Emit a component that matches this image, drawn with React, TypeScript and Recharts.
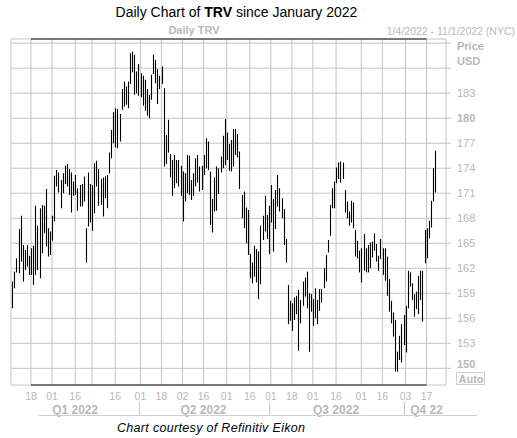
import React from "react";
import { ComposedChart, Bar, XAxis, YAxis, CartesianGrid, ReferenceLine } from "recharts";

// trading calendar, Jan 4 .. Oct 21 2022 (NYSE holidays skipped)
const FIRST_DAY = "2022-01-04";
const LAST_DAY = "2022-10-21";
const HOLIDAYS = ["01-17", "02-21", "04-15", "05-30", "06-20", "07-04", "09-05"];

// daily highs and lows
const highs = [
  160.4, 161.6, 163.2, 166.7, 168.3, 164.8, 164.2, 164.8, 163.5, 164.4,
  164.7, 169.5, 167.1, 169.2, 169.6, 169.5, 171.5, 166.8, 166.4, 168.3,
  173.1, 173.8, 173.5, 172.6, 173.4, 174.3, 174.5, 173.9, 173.5, 172.4,
  173.2, 171.6, 172.0, 172.1, 173.0, 166.8, 173.5, 172.1, 172.0, 174.6,
  174.9, 173.9, 172.7, 172.9, 173.0, 173.2, 175.9, 178.6, 180.7, 181.2,
  181.1, 180.5, 183.5, 184.4, 183.8, 184.4, 187.8, 188.0, 187.6, 185.6,
  186.5, 185.4, 185.1, 184.6, 183.5, 182.8, 185.2, 187.6, 187.0, 185.9,
  185.1, 186.2, 183.6, 178.0, 179.8, 175.7, 175.0, 175.6, 175.0, 175.0,
  174.3, 173.6, 173.4, 175.6, 175.5, 172.6, 173.4, 175.2, 175.6, 174.2,
  174.3, 175.6, 177.6, 177.2, 173.6, 170.3, 172.9, 174.2, 174.0, 175.4,
  177.9, 179.9, 178.3, 176.9, 177.4, 178.7, 178.7, 178.1, 176.0, 170.8,
  171.2, 169.3, 169.0, 163.7, 162.7, 164.7, 164.3, 164.0, 167.1, 168.3,
  170.7, 168.4, 169.5, 172.0, 170.3, 171.4, 173.2, 171.6, 170.4, 169.1,
  165.5, 160.0, 158.1, 157.8, 158.5, 158.7, 159.4, 158.2, 160.4, 160.9,
  161.6, 159.0, 158.9, 158.3, 159.6, 158.2, 159.5, 159.5, 162.0, 163.6,
  165.4, 169.6, 171.6, 172.4, 174.1, 174.7, 174.8, 174.7, 171.4, 170.0,
  168.8, 170.1, 169.9, 166.6, 165.3, 164.1, 164.4, 166.1, 164.4, 164.8,
  165.1, 165.2, 166.2, 164.9, 163.5, 165.5, 164.4, 164.4, 163.4, 160.7,
  158.1, 156.7, 155.8, 152.0, 153.9, 155.3, 156.4, 157.5, 161.7, 161.5,
  160.2, 158.9, 159.2, 161.1, 161.7, 161.7, 166.6, 166.8, 167.7, 170.1,
  174.0, 176.1,
];
const lows = [
  157.2, 159.6, 161.5, 161.4, 162.8, 160.4, 161.8, 162.2, 161.2, 161.2,
  160.0, 161.2, 161.8, 160.8, 163.8, 166.2, 164.6, 163.4, 163.6, 165.3,
  167.6, 171.8, 171.1, 169.2, 171.0, 172.1, 171.8, 170.8, 168.7, 170.7,
  170.8, 168.9, 169.4, 169.4, 170.0, 162.7, 167.0, 167.5, 166.5, 168.6,
  171.8, 169.5, 169.6, 168.2, 170.4, 169.2, 173.4, 175.2, 177.0, 176.5,
  176.4, 177.2, 181.0, 181.4, 181.6, 181.2, 184.1, 185.5, 182.8, 183.0,
  182.7, 182.5, 181.5, 180.9, 180.3, 180.0, 182.2, 185.3, 184.2, 181.7,
  183.5, 184.1, 174.2, 174.5, 175.9, 172.9, 170.7, 171.6, 172.2, 171.8,
  170.7, 167.6, 170.0, 171.0, 170.8, 170.2, 170.7, 171.8, 172.3, 171.2,
  171.4, 173.2, 174.0, 173.8, 167.2, 166.3, 168.8, 168.9, 170.9, 173.5,
  174.0, 174.4, 175.0, 173.7, 173.6, 174.2, 175.6, 175.3, 171.5, 168.0,
  166.8, 165.0, 163.6, 160.8, 160.2, 161.0, 160.3, 158.3, 160.1, 165.4,
  166.4, 165.5, 163.7, 167.5, 164.0, 166.7, 169.4, 168.8, 168.0, 164.8,
  162.7, 155.3, 155.7, 154.5, 155.8, 156.5, 152.1, 155.4, 157.5, 158.6,
  157.2, 152.0, 156.8, 155.1, 156.0, 155.3, 156.9, 157.9, 159.6, 160.4,
  163.9, 165.9, 169.2, 169.2, 172.2, 172.7, 172.3, 172.7, 168.7, 168.0,
  167.1, 167.5, 166.8, 163.4, 163.2, 161.5, 160.3, 161.7, 161.5, 161.5,
  162.0, 163.3, 164.1, 162.8, 161.7, 163.1, 161.2, 160.5, 158.7, 156.8,
  155.4, 153.8, 149.6, 149.6, 151.0, 150.7, 152.8, 151.9, 157.2, 159.8,
  158.2, 156.2, 157.1, 156.5, 158.2, 155.6, 162.6, 163.2, 165.6, 166.9,
  170.0, 171.1,
];

// x axis labels
const gridDates = [
  "01-18", "02-01", "02-16", "03-01", "03-16", "04-01", "04-18", "05-02", "05-16", "06-01",
  "06-16", "07-01", "07-18", "08-01", "08-16", "09-01", "09-16", "10-03", "10-17",
];
const hiddenDayLabels = ["03-01"];
const quarterLabels = [
  { at: "02-16", text: "Q1 2022" },
  { at: "05-16", text: "Q2 2022" },
  { at: "08-16", text: "Q3 2022" },
  { at: "10-17", text: "Q4 22" },
];
const quarterStarts = ["04-01", "07-01", "10-03"];

// price axis
const priceTicks = [150, 153, 156, 159, 162, 165, 168, 171, 174, 177, 180, 183, 186, 189];
const boldPrices = [150, 180];
const hiddenPrices = [186, 189];

const GRID = "#c4c4c4";
const LABEL = "#b8b8b8";
const FONT = "'Liberation Sans', Arial, sans-serif";

function tradingDays() {
  const out: string[] = [];
  const d = new Date(FIRST_DAY + "T00:00:00Z");
  const end = new Date(LAST_DAY + "T00:00:00Z");
  while (d <= end) {
    const wd = d.getUTCDay();
    const md = String(d.getUTCMonth() + 1).padStart(2, "0") + "-" + String(d.getUTCDate()).padStart(2, "0");
    if (wd !== 0 && wd !== 6 && !HOLIDAYS.includes(md)) out.push(md);
    d.setUTCDate(d.getUTCDate() + 1);
  }
  return out;
}

const days = tradingDays();
const data = days.map((d, i) => ({ d, hl: [lows[i], highs[i]] }));

// high-low stick, snapped to the pixel grid so it stays crisp
const HLBar = (p: any) => {
  const { x, y, width, height } = p;
  if (x == null || y == null) return null;
  const cx = Math.round(x + width / 2) + 0.5;
  const top = Math.min(y, y + height);
  const bot = Math.max(y, y + height);
  return <line x1={cx} x2={cx} y1={top} y2={bot} stroke="#000" strokeWidth={1.1} />;
};

const DateTick = (p: any) => {
  const { x, y, payload } = p;
  const v: string = payload.value;
  const q = quarterLabels.find((e) => e.at === v);
  return (
    <g>
      {!hiddenDayLabels.includes(v) && (
        <text x={x} y={y + 14.5} textAnchor="middle" fontSize={10.5} fill={LABEL} fontFamily={FONT}>
          {v.slice(3)}
        </text>
      )}
      {q && (
        <text x={x} y={y + 28.5} textAnchor="middle" fontSize={12} fontWeight="bold" fill={LABEL} fontFamily={FONT}>
          {q.text}
        </text>
      )}
      {quarterStarts.includes(v) && <line x1={x - 1} x2={x - 1} y1={y + 17} y2={y + 31} stroke={GRID} />}
    </g>
  );
};

const PriceTick = (p: any) => {
  const { x, y, payload } = p;
  const v: number = payload.value;
  if (hiddenPrices.includes(v)) return null;
  return (
    <text
      x={x}
      y={v === 150 ? y - 4 : y}
      dy="0.355em"
      fontSize={11}
      fontWeight={boldPrices.includes(v) ? "bold" : "normal"}
      fill={LABEL}
      fontFamily={FONT}
    >
      {v}
    </text>
  );
};

export default function App() {
  return (
    <div style={{ position: "absolute", left: 0, top: 0, width: 517, height: 438, background: "#fff" }}>
      <ComposedChart width={517} height={438} data={data} margin={{ top: 39, right: 0, bottom: 0, left: 11 }}>
        <CartesianGrid stroke={GRID} />
        <XAxis
          dataKey="d"
          ticks={gridDates}
          interval={0}
          height={53}
          tickSize={0}
          tickMargin={0}
          axisLine={false}
          tickLine={false}
          padding={{ left: 0, right: 10 }}
          tick={DateTick}
        />
        <YAxis
          orientation="right"
          type="number"
          domain={[148, 189.5]}
          ticks={priceTicks}
          interval={0}
          width={71}
          tickSize={5}
          tickMargin={6}
          axisLine={false}
          tickLine={{ stroke: GRID }}
          allowDataOverflow
          tick={PriceTick}
        />
        <Bar dataKey="hl" isAnimationActive={false} shape={HLBar} />
        <ReferenceLine
          segment={[{ x: gridDates[0], y: 189.5 }, { x: gridDates[gridDates.length - 1], y: 189.5 }]}
          stroke="#555"
          strokeWidth={1.5}
        />
        <ReferenceLine
          segment={[{ x: gridDates[0], y: 148 }, { x: gridDates[gridDates.length - 1], y: 148 }]}
          stroke="#555"
          strokeWidth={1.5}
        />
      </ComposedChart>
      <svg width={517} height={438} style={{ position: "absolute", left: 0, top: 0, pointerEvents: "none" }}>
        <text x={236.5} y={16.5} textAnchor="middle" fontSize={14} fill="#000" fontFamily={FONT}>
          Daily Chart of <tspan fontWeight="bold">TRV</tspan> since January 2022
        </text>
        <text x={194} y={34} textAnchor="middle" fontSize={11} fontWeight="bold" fill={LABEL} fontFamily={FONT}>
          Daily TRV
        </text>
        <text x={515} y={34.5} textAnchor="end" fontSize={10.5} fill={LABEL} fontFamily={FONT}>
          1/4/2022 - 11/1/2022 (NYC)
        </text>
        <text x={457} y={50} fontSize={11} fontWeight="bold" fill={LABEL} fontFamily={FONT}>Price</text>
        <text x={457} y={65} fontSize={11} fontWeight="bold" fill={LABEL} fontFamily={FONT}>USD</text>
        <rect x={456.5} y={372.5} width={28} height={12} fill="none" stroke="#cfcfcf" />
        <text x={458.5} y={382.5} fontSize={11} fontWeight="bold" fill={LABEL} fontFamily={FONT}>Auto</text>
        <line x1={38} x2={477} y1={415.5} y2={415.5} stroke="#d0d0d0" />
        <text x={117} y={432} fontSize={12.5} fontStyle="italic" fill="#000" fontFamily={FONT} textLength={188}>
          Chart courtesy of Refinitiv Eikon
        </text>
      </svg>
    </div>
  );
}
